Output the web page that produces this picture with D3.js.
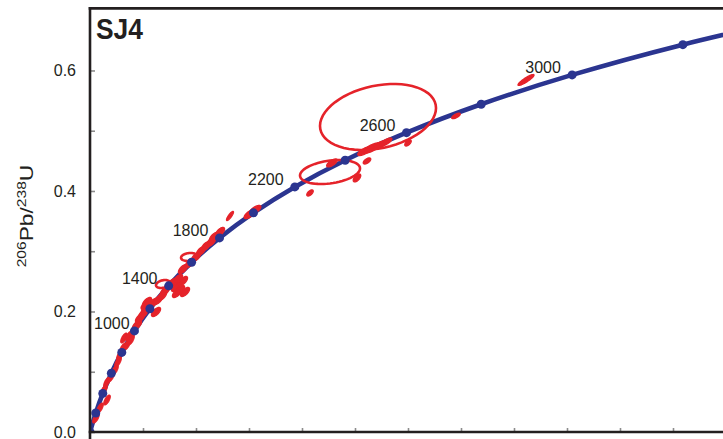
<!DOCTYPE html>
<html><head><meta charset="utf-8">
<script src="https://cdn.jsdelivr.net/npm/d3@7/dist/d3.min.js"></script>
<style>body{margin:0;background:#fff}svg{display:block}</style>
</head><body><svg id="c" width="723" height="439"></svg>
<script>
// ---- data ----
const concordiaAges = [0,200,400,600,800,1000,1200,1400,1600,1800,2000,2200,2400,2600,2800,3000,3200,3400];
const concordiaX = [0,0.2177,0.4828,0.8056,1.1987,1.6774,2.2603,2.9701,3.8344,4.8869,6.1685,7.7292,9.6296,11.9438,14.7617,18.1931,22.3716,27.4593]; // 207Pb/235U
const concordiaY = [0,0.03151,0.06402,0.09754,0.13213,0.16781,0.2046,0.24256,0.28173,0.32212,0.36376,0.40674,0.45106,0.49678,0.54396,0.59261,0.6428,0.69456]; // 206Pb/238U
const labelAges = [1000,1400,1800,2200,2600,3000];
const yTicks = [0,0.1,0.2,0.3,0.4,0.5,0.6];
const yTickLabels = ["0.0","","0.2","","0.4","","0.6"];
const xTicks = [2,4,6,8,10,12,14,16,18,20,22];
const sampleName = "SJ4";

// filled analysis spots (207Pb/235U, 206Pb/238U, 2s errors, rho)
const spotX = [0.226,0.377,0.642,0.528,0.642,0.792,0.943,1.057,1.132,1.245,1.396,1.283,1.472,1.623,1.547,
  1.774,1.887,2.000,2.113,2.264,2.377,2.151,2.491,2.566,2.717,2.830,2.943,3.094,3.245,3.396,3.509,3.321,3.585,3.283,
  3.509,3.774,4.000,4.189,4.377,4.566,4.679,4.906,
  5.283,6.038,6.226,
  8.302,9.132,10.075,10.453,10.377,10.642,10.943,11.170,12.000,13.811,16.453];
const spotY = [0.0232,0.0398,0.0531,0.0697,0.0830,0.0913,0.1029,0.1162,0.1278,0.1394,0.1444,0.1560,0.1593,0.1660,0.1527,
  0.1776,0.1892,0.1959,0.2041,0.2091,0.2141,0.2158,0.1992,0.2191,0.2257,0.2340,0.2407,0.2473,0.2407,0.2357,0.2506,0.2539,0.2324,0.2307,
  0.2705,0.2805,0.2905,0.3004,0.3087,0.3154,0.3237,0.3320,
  0.3585,0.3618,0.3685,
  0.3967,0.4465,0.4216,0.4498,0.4664,0.4714,0.4763,0.4813,0.4797,0.5245,0.5842];
const spotSX = [0.12,0.12,0.12,0.12,0.12,0.12,0.12,0.12,0.12,0.12,0.12,0.12,0.12,0.12,0.12,
  0.17,0.17,0.17,0.17,0.17,0.17,0.17,0.17,0.17,0.17,0.17,0.17,0.17,0.17,0.17,0.17,0.17,0.17,0.17,
  0.17,0.17,0.17,0.17,0.17,0.17,0.17,0.17,
  0.13,0.22,0.22,
  0.12,0.2,0.14,0.14,0.27,0.32,0.27,0.22,0.12,0.16,0.3];
const spotSY = [0.008,0.008,0.008,0.008,0.008,0.008,0.008,0.008,0.008,0.008,0.008,0.008,0.008,0.008,0.008,
  0.0075,0.0075,0.0075,0.0075,0.0075,0.0075,0.0075,0.0075,0.0075,0.0075,0.0075,0.0075,0.0075,0.0075,0.0075,0.0075,0.0075,0.0075,0.0075,
  0.0075,0.0075,0.0075,0.0075,0.0075,0.0075,0.0075,0.0075,
  0.0075,0.0075,0.0075,
  0.005,0.0065,0.0065,0.005,0.0075,0.0085,0.0075,0.0065,0.005,0.0045,0.009];
const spotRho = [0.7,0.7,0.7,0.7,0.7,0.7,0.7,0.7,0.7,0.7,0.7,0.7,0.7,0.7,0.7,
  0.65,0.65,0.65,0.65,0.65,0.65,0.65,0.65,0.65,0.65,0.65,0.65,0.65,0.65,0.65,0.65,0.65,0.65,0.65,
  0.65,0.65,0.65,0.65,0.65,0.65,0.65,0.65,
  0.85,0.7,0.7,
  0.6,0.7,0.6,0.6,0.75,0.75,0.75,0.75,0.6,0.7,0.9];

// large-error analyses drawn as open ellipses
const openX = [2.151,2.755,3.736,9.057,10.868];
const openY = [0.2091,0.2456,0.2905,0.4315,0.5228];
const openSX = [0.2,0.264,0.30,1.132,2.189];
const openSY = [0.006,0.0066,0.0066,0.0199,0.0548];
const openRho = [0.5,0.3,0.2,0.3,0.27];

// ---- chart ----
const BLUE = "#2b3590", RED = "#e5232a", INK = "#231f20";
const svg = d3.select("#c");
const x = d3.scaleLinear().domain([0,24]).range([90,726]);
const y = d3.scaleLinear().domain([0,0.703]).range([432,8.4]);

svg.append("defs").append("clipPath").attr("id","plot")
  .append("rect").attr("x",90).attr("y",8.4).attr("width",633).attr("height",423.6);

// ticks (inward, grey)
const yAxis = d3.axisLeft(y).tickValues(yTicks).tickSize(-5).tickPadding(14)
  .tickFormat((d,i)=>yTickLabels[i]);
const gy = svg.append("g").attr("transform","translate(90,0)").call(yAxis);
gy.select(".domain").remove();
gy.selectAll(".tick line").attr("stroke","#8c8c8c").attr("stroke-width",1.6);
gy.selectAll(".tick text").attr("fill",INK).style("font-family","'Liberation Sans', Arial, sans-serif").style("font-size","16px");

const xAxis = d3.axisBottom(x).tickValues(xTicks).tickSize(-4).tickFormat("");
const gx = svg.append("g").attr("transform","translate(0,432)").call(xAxis);
gx.select(".domain").remove();
gx.selectAll(".tick line").attr("stroke","#8c8c8c").attr("stroke-width",1.6);

const plot = svg.append("g").attr("clip-path","url(#plot)");

// concordia curve
const pts = concordiaAges.map((a,i)=>[concordiaX[i],concordiaY[i]]);
plot.append("path").datum(pts)
  .attr("d", d3.line().x(d=>x(d[0])).y(d=>y(d[1])).curve(d3.curveCatmullRom.alpha(0.5)))
  .attr("fill","none").attr("stroke",BLUE).attr("stroke-width",4.6).attr("stroke-linecap","round");

// ellipse generator
function ellipse(cx,cy,sx,sy,rho){
  const n=60, p=[], k=Math.sqrt(1-rho*rho);
  for(let j=0;j<n;j++){
    const t=2*Math.PI*j/n;
    p.push([x(cx+sx*Math.cos(t)), y(cy+sy*(rho*Math.cos(t)+k*Math.sin(t)))]);
  }
  return d3.line().curve(d3.curveLinearClosed)(p);
}

plot.append("g").selectAll("path").data(spotX).join("path")
  .attr("d",(d,i)=>ellipse(spotX[i],spotY[i],spotSX[i],spotSY[i],spotRho[i]))
  .attr("fill",RED).attr("stroke",RED).attr("stroke-width",1.4).attr("stroke-linejoin","round");

plot.append("g").selectAll("path").data(openX).join("path")
  .attr("d",(d,i)=>ellipse(openX[i],openY[i],openSX[i],openSY[i],openRho[i]))
  .attr("fill","none").attr("stroke",RED).attr("stroke-width",2.6);

// age markers
plot.append("g").selectAll("circle").data(pts).join("circle")
  .attr("cx",d=>x(d[0])).attr("cy",d=>y(d[1])).attr("r",4.5).attr("fill",BLUE);

// age labels
const lab = svg.append("g").style("font-family","'Liberation Sans', Arial, sans-serif").style("font-size","16px").attr("fill",INK);
labelAges.forEach(a=>{
  const i = concordiaAges.indexOf(a);
  const px = x(concordiaX[i]), py = y(concordiaY[i]);
  const w = 35.6;
  let cx = px - 29;
  if (cx - w/2 < 94) cx = 94 + w/2;
  lab.append("text").attr("x",cx).attr("y",py-2).attr("text-anchor","middle").text(a);
});

// frame lines
svg.append("line").attr("x1",88.7).attr("x2",723).attr("y1",8.4).attr("y2",8.4).attr("stroke",INK).attr("stroke-width",2.6);
svg.append("line").attr("x1",90).attr("x2",90).attr("y1",7.1).attr("y2",439).attr("stroke",INK).attr("stroke-width",2.6);
svg.append("line").attr("x1",88.7).attr("x2",723).attr("y1",432).attr("y2",432).attr("stroke",INK).attr("stroke-width",2.6);

// sample name
svg.append("text").attr("x",96).attr("y",39).text(sampleName)
  .attr("textLength",47).attr("lengthAdjust","spacingAndGlyphs")
  .style("font-family","'Liberation Sans', Arial, sans-serif").style("font-weight","bold").style("font-size","30px").attr("fill",INK);

// y-axis title
const yt = svg.append("text").attr("transform","translate(33,216) rotate(-90) scale(1.2,1)")
  .attr("text-anchor","middle").attr("fill",INK)
  .style("font-family","'Liberation Sans', Arial, sans-serif").style("font-size","19px");
yt.append("tspan").attr("font-size","13px").attr("dy","-7").text("206");
yt.append("tspan").attr("dy","7").text("Pb/");
yt.append("tspan").attr("font-size","13px").attr("dy","-7").text("238");
yt.append("tspan").attr("dy","7").text("U");
</script></body></html>
